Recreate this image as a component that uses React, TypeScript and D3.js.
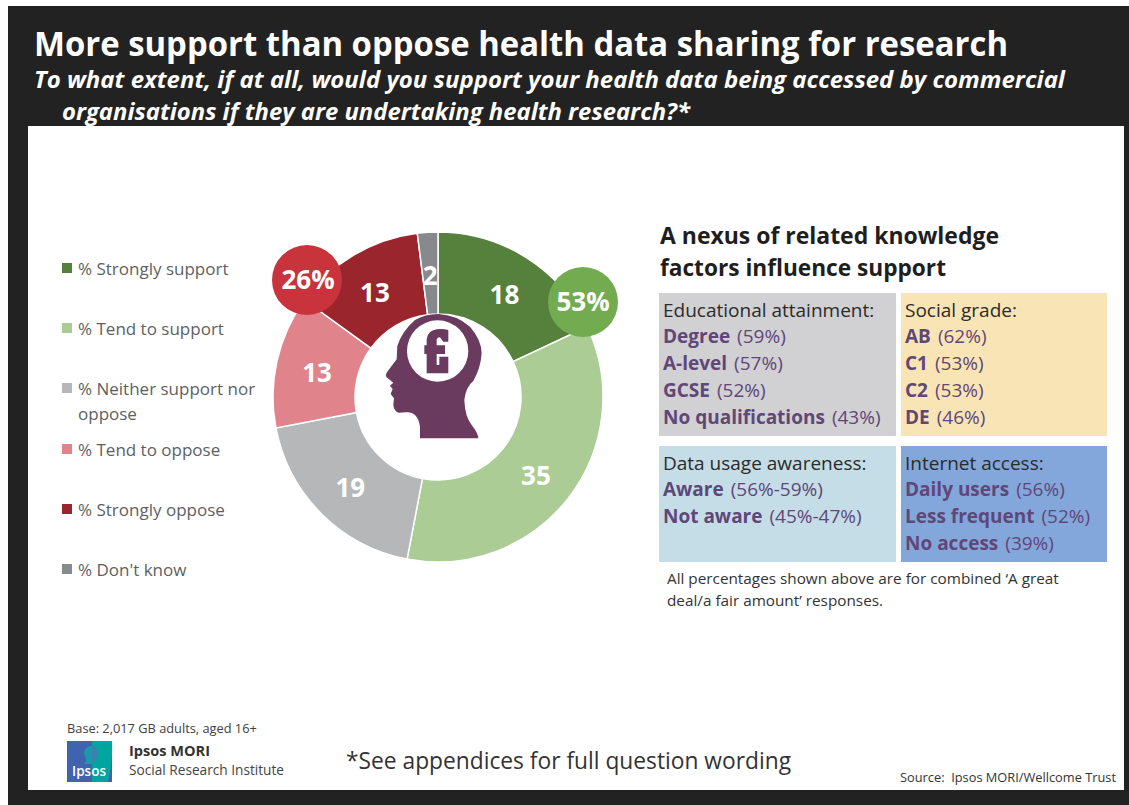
import React from "react";
import * as d3 from "d3";

const sliceLabels = ["% Strongly support", "% Tend to support", "% Neither support nor|oppose", "% Tend to oppose", "% Strongly oppose", "% Don't know"];
const sliceValues = [18, 35, 19, 13, 13, 2];
const sliceColors = ["#56813c", "#abcd95", "#b6b7b9", "#e0838a", "#9a252d", "#878a8d"];
const legendY = [269, 329, 389, 450, 510, 570];
const FONT = "'Open Sans', 'Noto Sans', sans-serif";
const PURPLE = "#5f4778";

const boxes = [
  { x: 659, y: 293, w: 237, h: 143, fill: "#d1d0d3", title: "Educational attainment:", rows: [["Degree", "(59%)"], ["A-level", "(57%)"], ["GCSE", "(52%)"], ["No qualifications", "(43%)"]] },
  { x: 901, y: 293, w: 206, h: 143, fill: "#f9e4b6", title: "Social grade:", rows: [["AB", "(62%)"], ["C1", "(53%)"], ["C2", "(53%)"], ["DE", "(46%)"]] },
  { x: 659, y: 446, w: 237, h: 116, fill: "#c4dde7", title: "Data usage awareness:", rows: [["Aware", "(56%-59%)"], ["Not aware", "(45%-47%)"]] },
  { x: 901, y: 446, w: 206, h: 116, fill: "#83a7db", title: "Internet access:", rows: [["Daily users", "(56%)"], ["Less frequent", "(52%)"], ["No access", "(39%)"]] },
];

const cx = 438, cy = 397, rOuter = 165, rInner = 83;

export default function App() {
  const pie = d3.pie<number>().sort(null).value((d) => d)(sliceValues);
  const arc = d3.arc<d3.PieArcDatum<number>>().innerRadius(rInner).outerRadius(rOuter);
  const labelArc = d3.arc<d3.PieArcDatum<number>>().innerRadius(124).outerRadius(124);
  const fit = { lengthAdjust: "spacingAndGlyphs" as const };
  return (
    <svg width={1129} height={805} style={{ position: "absolute", left: 0, top: 0, fontFamily: FONT }}>
      <rect x={0} y={0} width={1129} height={805} fill="#fff" />
      <rect x={8} y={6} width={1121} height={799} fill="#222222" />
      <rect x={28} y={126} width={1096} height={664} fill="#fff" />
      <text x={34} y={56} fontSize={33.5} fontWeight={700} fill="#fff" textLength={974} {...fit}>More support than oppose health data sharing for research</text>
      <text x={34} y={88} fontSize={23} fontWeight={700} fontStyle="italic" fill="#fff" textLength={1031} {...fit}>To what extent, if at all, would you support your health data being accessed by commercial</text>
      <text x={62} y={120} fontSize={23} fontWeight={700} fontStyle="italic" fill="#fff" textLength={628} {...fit}>organisations if they are undertaking health research?*</text>

      {sliceLabels.map((l, i) => (
        <g key={l}>
          <rect x={62} y={legendY[i] - 6} width={10} height={10} fill={sliceColors[i]} />
          {l.split("|").map((t, j) => (
            <text key={t} x={78} y={legendY[i] + 6 + j * 25} fontSize={17} fill="#5e5f63">{t}</text>
          ))}
        </g>
      ))}

      <g transform={`translate(${cx},${cy})`}>
        {pie.map((d, i) => (
          <path key={i} d={arc(d) ?? ""} fill={sliceColors[i]} stroke="#fff" strokeWidth={1.5} />
        ))}
        {pie.map((d, i) => {
          const [x, y] = labelArc.centroid(d);
          return (
            <text key={i} x={x} y={y + 2.5} dy="0.36em" textAnchor="middle" fontSize={26} fontWeight={700} fill="#fff">{d.value}</text>
          );
        })}
      </g>

      <circle cx={583} cy={302} r={35} fill="#73ab50" />
      <text x={583} y={311} textAnchor="middle" fontSize={26} fontWeight={700} fill="#fff">53%</text>
      <circle cx={307} cy={280} r={35} fill="#c9333b" />
      <text x={308} y={289} textAnchor="middle" fontSize={26} fontWeight={700} fill="#fff">26%</text>

      <g transform="translate(260,220) scale(0.3333)">
        <path fill="#6a3b5e" d="M480,655 L480,620 Q476,595 465,585 Q455,575 440,577 L415,578 Q402,572 400,555 L402,535 L392,522 L398,507 L390,497 L400,488 L380,472 Q375,465 382,455 L410,418 L412,378 Q425,335 465,300 Q495,282 535,282 Q590,285 630,320 Q665,360 665,400 Q662,445 640,483 Q618,500 613,540 Q615,590 635,615 Q655,640 655,655 Z" />
        <circle cx={533} cy={393} r={92} fill="#fff" />
      </g>
      <g transform="translate(380,310) scale(0.3333)">
        <path fill="#6a3b5e" d="M140,190 L205,190 L205,140 L178,140 L178,165 L170,165 L170,132 L195,132 L195,106 L170,106 L170,88 Q172,82 180,82 L190,95 L205,95 L205,60 Q190,56 170,58 Q142,62 140,88 L140,106 L133,106 L133,132 L140,132 Z" />
      </g>

      <text x={660} y={244} fontSize={24} fontWeight={700} fill="#1e1e1e" textLength={339} {...fit}>A nexus of related knowledge</text>
      <text x={660} y={276} fontSize={24} fontWeight={700} fill="#1e1e1e" textLength={286} {...fit}>factors influence support</text>

      {boxes.map((b) => (
        <g key={b.title}>
          <rect x={b.x} y={b.y} width={b.w} height={b.h} fill={b.fill} />
          <text x={b.x + 4} y={b.y + 24} fontSize={19} fill="#2b2b2b">{b.title}</text>
          {b.rows.map((r, i) => (
            <text key={r[0]} x={b.x + 4} y={b.y + 50.3 + i * 26.8} fontSize={19} fill={PURPLE}>
              <tspan fontWeight={700}>{r[0]}</tspan><tspan dx={7}>{r[1]}</tspan>
            </text>
          ))}
        </g>
      ))}

      <text x={667} y={584} fontSize={15.3} fill="#333">All percentages shown above are for combined ‘A great</text>
      <text x={667} y={606} fontSize={15.3} fill="#333">deal/a fair amount’ responses.</text>

      <text x={67} y={733} fontSize={12.8} fill="#404040">Base: 2,017 GB adults, aged 16+</text>
      <rect x={67} y={741} width={45} height={41} fill="#3f63ae" />
      <path d="M92,741 L112,741 Q113,760 108,782 L92,782 Z" fill="#00a5a0" />
      <path d="M90,746 Q84,748 84,754 Q88,760 84,764 L92,764 L92,746 Z" fill="#1a9aa8" />
      <path d="M92,746 Q98,747 98,754 Q97,760 93,762 L92,764 Z" fill="#3f7fb0" />
      <text x={72} y={776} fontSize={13.5} fontWeight={600} fill="#fff" textLength={34} {...fit}>Ipsos</text>
      <text x={129} y={756} fontSize={15} fontWeight={700} fill="#333" textLength={81} {...fit}>Ipsos MORI</text>
      <text x={129} y={775} fontSize={15} fill="#444" textLength={155} {...fit}>Social Research Institute</text>
      <text x={346} y={769} fontSize={24.5} fill="#333" textLength={445} {...fit}>*See appendices for full question wording</text>
      <text x={900} y={782} fontSize={13.5} fill="#333" textLength={216} {...fit} style={{ whiteSpace: "pre" }}>Source:  Ipsos MORI/Wellcome Trust</text>
    </svg>
  );
}
